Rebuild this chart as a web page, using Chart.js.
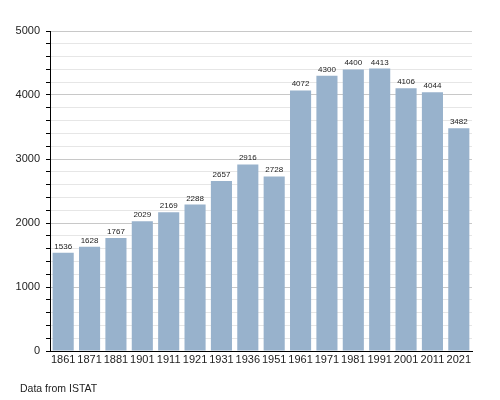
<!DOCTYPE html>
<html>
<head>
<meta charset="utf-8">
<script src="https://cdn.jsdelivr.net/npm/chart.js@4"></script>
<style>
  html, body { margin: 0; padding: 0; background: #fff; }
  #wrap { position: relative; width: 500px; height: 400px; }
  #footer { position: absolute; left: 20px; top: 382px; font: 10.5px "Liberation Sans", Arial, sans-serif; color: #222; }
</style>
</head>
<body>
<div id="wrap">
  <canvas id="c" width="500" height="400"></canvas>
  <div id="footer">Data from ISTAT</div>
</div>
<script>
const years = ["1861","1871","1881","1901","1911","1921","1931","1936","1951","1961","1971","1981","1991","2001","2011","2021"];
const population = [1536,1628,1767,2029,2169,2288,2657,2916,2728,4072,4300,4400,4413,4106,4044,3482];
const yMin = 0;
const yMax = 5000;
const yStep = 200;
const yLabelStep = 1000;

const valueLabels = {
  id: 'valueLabels',
  afterDatasetsDraw(chart) {
    const ctx = chart.ctx;
    const meta = chart.getDatasetMeta(0);
    ctx.save();
    ctx.font = '8px "Liberation Sans", Arial, sans-serif';
    ctx.fillStyle = '#222';
    ctx.textAlign = 'center';
    ctx.textBaseline = 'alphabetic';
    meta.data.forEach((bar, i) => {
      ctx.fillText(String(population[i]), bar.x, bar.y - 4);
    });
    ctx.restore();
  }
};

new Chart(document.getElementById('c'), {
  type: 'bar',
  data: {
    labels: years,
    datasets: [{
      data: population,
      backgroundColor: '#98b2cc',
      borderWidth: 0,
      categoryPercentage: 1.0,
      barPercentage: 0.8
    }]
  },
  options: {
    responsive: false,
    animation: false,
    devicePixelRatio: 1,
    layout: { padding: { left: 0, right: 28, top: 31, bottom: 0 } },
    plugins: { legend: { display: false }, tooltip: { enabled: false } },
    scales: {
      x: {
        afterFit(scale) { scale.height = 49; },
        grid: { display: false, drawTicks: false },
        border: { display: true, color: '#000', width: 1 },
        ticks: {
          color: '#222',
          padding: 2,
          maxRotation: 0,
          autoSkip: false,
          font: { family: '"Liberation Sans", Arial, sans-serif', size: 11 }
        }
      },
      y: {
        min: yMin,
        max: yMax,
        afterFit(scale) { scale.width = 50; },
        border: { display: true, color: '#000', width: 1 },
        grid: {
          color: (c) => (c.tick && c.tick.value % yLabelStep === 0) ? '#c8c8c8' : '#e6e6e6',
          tickColor: '#000',
          tickLength: 4,
          drawTicks: true
        },
        ticks: {
          stepSize: yStep,
          autoSkip: false,
          color: '#222',
          padding: 6,
          font: { family: '"Liberation Sans", Arial, sans-serif', size: 11 },
          callback: (v) => (v % yLabelStep === 0) ? String(v) : ''
        }
      }
    }
  },
  plugins: [valueLabels]
});
</script>
</body>
</html>
